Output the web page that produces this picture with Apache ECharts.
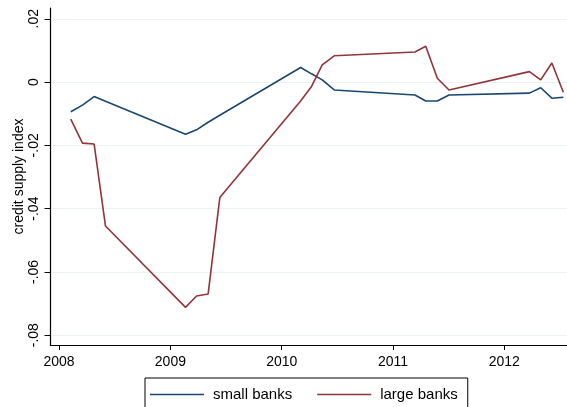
<!DOCTYPE html>
<html>
<head>
<meta charset="utf-8">
<script src="https://cdn.jsdelivr.net/npm/echarts@6/dist/echarts.min.js"></script>
<style>
  html, body { margin: 0; padding: 0; background: #fff; }
  #chart { width: 567px; height: 407px; }
</style>
</head>
<body>
<div id="chart"></div>
<script>
// Survey dates (decimal years)
var dates = [
  2008.105, 2008.210, 2008.315, 2008.417,
  2009.136, 2009.235, 2009.339, 2009.444,
  2010.170, 2010.268, 2010.364, 2010.472,
  2011.197, 2011.294, 2011.398, 2011.503,
  2012.225, 2012.327, 2012.427, 2012.530
];

// Credit supply index, small banks
var smallBanks = [
  -0.0094, -0.0073, -0.0046, -0.0061,
  -0.0165, -0.0151, -0.0127, -0.0105,
   0.0046,  0.0026,  0.0007, -0.0025,
  -0.0041, -0.0060, -0.0060, -0.0041,
  -0.0035, -0.0018, -0.0051, -0.0048
];

// Credit supply index, large banks
var largeBanks = [
  -0.0117, -0.0193, -0.0196, -0.0455,
  -0.0712, -0.0676, -0.0670, -0.0365,
  -0.0060, -0.0014,  0.0054,  0.0083,
   0.0095,  0.0113,  0.0012, -0.0025,
   0.0033,  0.0007,  0.0060, -0.0032
];

var xTicks = [2008, 2009, 2010, 2011, 2012];
var yTicks = [-0.08, -0.06, -0.04, -0.02, 0, 0.02];

function pairs(xs, ys) {
  return xs.map(function (x, i) { return [x, ys[i]]; });
}

function fmtY(v) {
  if (Math.abs(v) < 1e-9) return '0';
  var s = Math.abs(v).toFixed(2).replace(/^0/, '');
  return (v < 0 ? '-' : '') + s;
}

var FONT = '"Liberation Sans", Arial, Helvetica, sans-serif';

var chart = echarts.init(document.getElementById('chart'), null, { renderer: 'canvas' });

chart.setOption({
  backgroundColor: '#ffffff',
  animation: false,
  grid: { left: 50.5, right: 0, top: 8, bottom: 62, containLabel: false },
  xAxis: {
    type: 'value',
    min: 2007.923,
    max: 2012.563,
    axisLine: { show: true, onZero: false, lineStyle: { color: '#000', width: 1.2 } },
    axisTick: { show: true, length: 5, customValues: xTicks, lineStyle: { color: '#000', width: 1 } },
    axisLabel: {
      customValues: xTicks,
      color: '#000', fontFamily: FONT, fontSize: 14, margin: 10,
      formatter: function (v) { return String(Math.round(v)); }
    },
    splitLine: { show: false }
  },
  yAxis: {
    type: 'value',
    min: -0.0831,
    max: 0.0234,
    name: 'credit supply index',
    nameLocation: 'middle',
    nameGap: 24,
    nameRotate: 90,
    nameMoveOverlap: false,
    nameTextStyle: { color: '#000', fontFamily: FONT, fontSize: 14 },
    axisLine: { show: true, onZero: false, lineStyle: { color: '#000', width: 1.2 } },
    axisTick: { show: true, length: 6, customValues: yTicks, lineStyle: { color: '#000', width: 1 } },
    axisLabel: {
      customValues: yTicks,
      rotate: 90,
      color: '#000', fontFamily: FONT, fontSize: 14, margin: 9,
      formatter: fmtY
    },
    splitLine: { show: true, lineStyle: { color: '#eaf2f3', width: 1.2 } }
  },
  legend: {
    show: true,
    left: 145,
    top: 378,
    orient: 'horizontal',
    padding: [9, 10, 30, 5],
    itemGap: 25,
    itemWidth: 54,
    itemHeight: 1.5,
    icon: 'rect',
    borderColor: '#000',
    borderWidth: 1,
    backgroundColor: '#fff',
    textStyle: { color: '#000', fontFamily: FONT, fontSize: 15, padding: [0, 0, 0, 4] },
    data: ['small banks', 'large banks']
  },
  series: [
    {
      name: 'small banks',
      type: 'line',
      symbol: 'none',
      data: pairs(dates, smallBanks),
      lineStyle: { color: '#1a476f', width: 1.6 },
      itemStyle: { color: '#1a476f' }
    },
    {
      name: 'large banks',
      type: 'line',
      symbol: 'none',
      data: pairs(dates, largeBanks),
      lineStyle: { color: '#90353b', width: 1.6 },
      itemStyle: { color: '#90353b' }
    }
  ]
});
</script>
</body>
</html>
